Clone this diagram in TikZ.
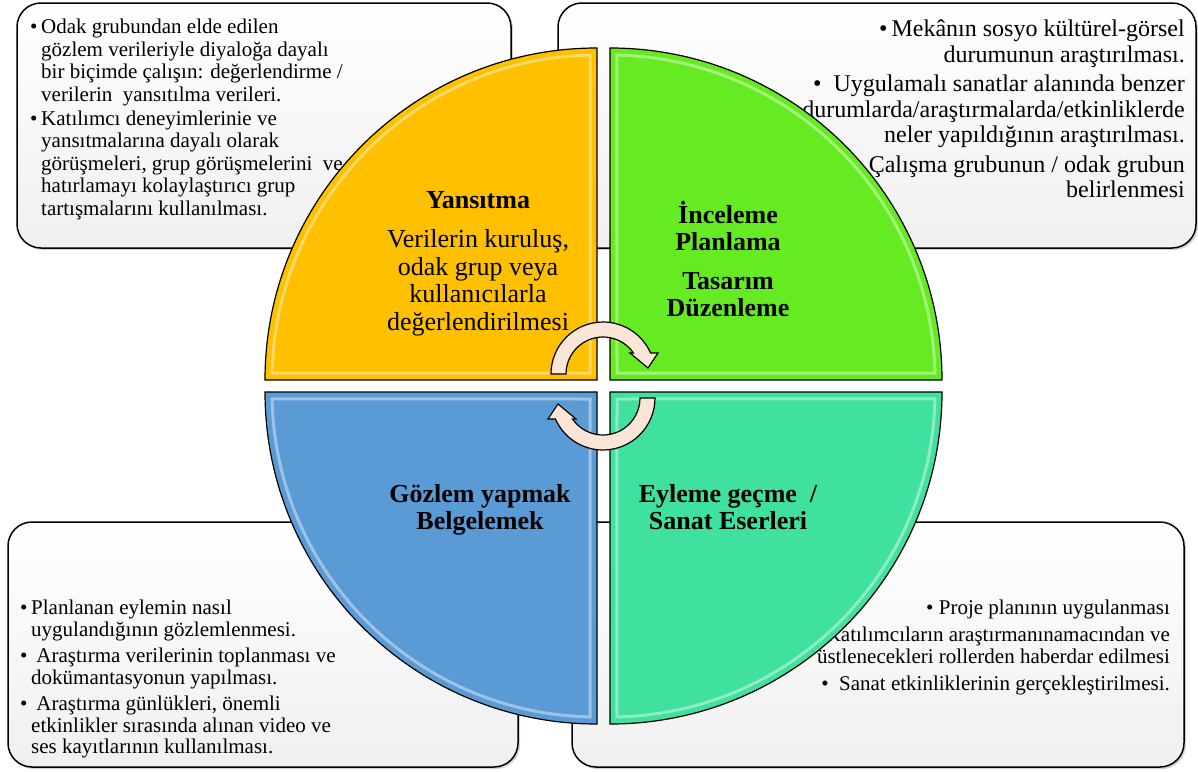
\documentclass[tikz,border=0pt]{standalone}
\usepackage{fontspec}
\setmainfont{Liberation Serif}
\usetikzlibrary{shadows}
\definecolor{yansitma}{RGB}{255,192,0}
\definecolor{inceleme}{RGB}{102,235,34}
\definecolor{gozlem}{RGB}{91,155,213}
\definecolor{eyleme}{RGB}{64,224,158}
\definecolor{oktonu}{RGB}{251,229,214}
\newcommand{\bul}{\makebox[11pt][l]{\textbullet}}
\newcommand{\ind}{\hspace*{11pt}}
\begin{document}
\begin{tikzpicture}[x=1pt,y=1pt,
  kutu/.style={draw=black, line width=1.5pt, rounded corners=24pt, top color=white, bottom color=black!6,
    drop shadow={shadow xshift=2pt, shadow yshift=-2pt, opacity=.35}},
  notsol/.style={align=left, inner sep=0pt, font=\fontsize{21}{22.5}\selectfont},
  notsag/.style={align=right, inner sep=0pt, font=\fontsize{21}{22}\selectfont},
  dilim/.style={draw=black, line width=1.2pt},
  parlak/.style={draw=white, line width=3pt, opacity=.4},
  baslik/.style={align=center, inner sep=0pt, font=\fontsize{26}{27}\selectfont},
  ok/.style={draw=black, line width=1.2pt, fill=oktonu}]
\useasboundingbox (0,0) rectangle (1198,-771);
\node[kutu, minimum width=494pt, minimum height=245pt] (kutu0) at (264,-125.5) {};
\node[kutu, minimum width=638pt, minimum height=245pt] (kutu1) at (877,-125.5) {};
\node[kutu, minimum width=510pt, minimum height=245pt] (kutu2) at (263,-644.5) {};
\node[kutu, minimum width=612pt, minimum height=245pt] (kutu3) at (878,-644.5) {};
\node[notsol, anchor=north west] (not0) at (30,-19) {\bul Odak grubundan elde edilen\\
\ind gözlem verileriyle diyaloğa dayalı\\
\ind bir biçimde çalışın: değerlendirme /\\
\ind verilerin\ \ yansıtılma verileri.\\[1.5pt]
\bul Katılımcı deneyimlerinie ve\\
\ind yansıtmalarına dayalı olarak\\
\ind görüşmeleri, grup görüşmelerini\ \ ve\\
\ind hatırlamayı kolaylaştırıcı grup\\
\ind tartışmalarını kullanılması.};
\node[notsag, anchor=north east, font=\fontsize{24}{25.5}\selectfont] (not1) at (1185,-20) {\textbullet\,Mekânın sosyo kültürel-görsel\\
durumunun araştırılması.\\[4pt]
\textbullet\ \ Uygulamalı sanatlar alanında benzer\\
durumlarda/araştırmalarda/etkinliklerde\\
neler yapıldığının araştırılması.\\[4pt]
\textbullet\ Çalışma grubunun / odak grubun\\
belirlenmesi};
\node[notsol, anchor=north west, font=\fontsize{21}{21.5}\selectfont] (not2) at (20,-600) {\bul Planlanan eylemin nasıl\\
\ind uygulandığının gözlemlenmesi.\\[5pt]
\bul\ Araştırma verilerinin toplanması ve\\
\ind dokümantasyonun yapılması.\\[5pt]
\bul\ Araştırma günlükleri, önemli\\
\ind etkinlikler sırasında alınan video ve\\
\ind ses kayıtlarının kullanılması.};
\node[notsag, anchor=north east] (not3) at (1170,-600) {\textbullet\ Proje planının uygulanması\\[5pt]
\textbullet\ Katılımcıların araştırmanınamacından ve\\
üstlenecekleri rollerden haberdar edilmesi\\[5pt]
\textbullet\ \ Sanat etkinliklerinin gerçekleştirilmesi.};
\begin{scope}[shift={(597,-380)},rotate=90]
\draw[dilim, fill=yansitma] (0,0) -- (332,0) arc[start angle=0, end angle=90, radius=332] -- cycle;
\draw[parlak] (7,7) -- (1.2:325) arc[start angle=1.2, end angle=88.8, radius=325] -- cycle;
\end{scope}
\begin{scope}[shift={(610,-380)}]
\draw[dilim, fill=inceleme] (0,0) -- (332,0) arc[start angle=0, end angle=90, radius=332] -- cycle;
\draw[parlak] (7,7) -- (1.2:325) arc[start angle=1.2, end angle=88.8, radius=325] -- cycle;
\end{scope}
\begin{scope}[shift={(597,-392)},rotate=180]
\draw[dilim, fill=gozlem] (0,0) -- (332,0) arc[start angle=0, end angle=90, radius=332] -- cycle;
\draw[parlak] (7,7) -- (1.2:325) arc[start angle=1.2, end angle=88.8, radius=325] -- cycle;
\end{scope}
\begin{scope}[shift={(610,-392)},rotate=270]
\draw[dilim, fill=eyleme] (0,0) -- (332,0) arc[start angle=0, end angle=90, radius=332] -- cycle;
\draw[parlak] (7,7) -- (1.2:325) arc[start angle=1.2, end angle=88.8, radius=325] -- cycle;
\end{scope}
\node[baslik, font=\fontsize{26}{27.5}\selectfont] (baslik0) at (478,-263.5) {\textbf{Yansıtma}\\[12pt]
Verilerin kuruluş,\\odak grup veya\\kullanıcılarla\\değerlendirilmesi};
\node[baslik, font=\bfseries\fontsize{26}{27}\selectfont] (baslik1) at (728,-259) {İnceleme\\Planlama\\[12pt]
Tasarım\\Düzenleme};
\node[baslik, font=\bfseries\fontsize{26}{27}\selectfont] (baslik2) at (480,-510) {Gözlem yapmak\\Belgelemek};
\node[baslik, font=\bfseries\fontsize{26}{27}\selectfont] (baslik3) at (728,-507.5) {Eyleme geçme\ \ /\\Sanat Eserleri};
\begin{scope}[shift={(603,-374)}]
\draw[ok] (180:52) arc[start angle=180, end angle=23.8, radius=52] -- (55,21) -- (45,6) -- (27,21) -- (34.5:37) arc[start angle=34.5, end angle=180, radius=37] -- cycle;
\end{scope}
\begin{scope}[shift={(603,-398)},rotate=180]
\draw[ok] (180:52) arc[start angle=180, end angle=23.8, radius=52] -- (55,21) -- (45,6) -- (27,21) -- (34.5:37) arc[start angle=34.5, end angle=180, radius=37] -- cycle;
\end{scope}
\end{tikzpicture}
\end{document}
